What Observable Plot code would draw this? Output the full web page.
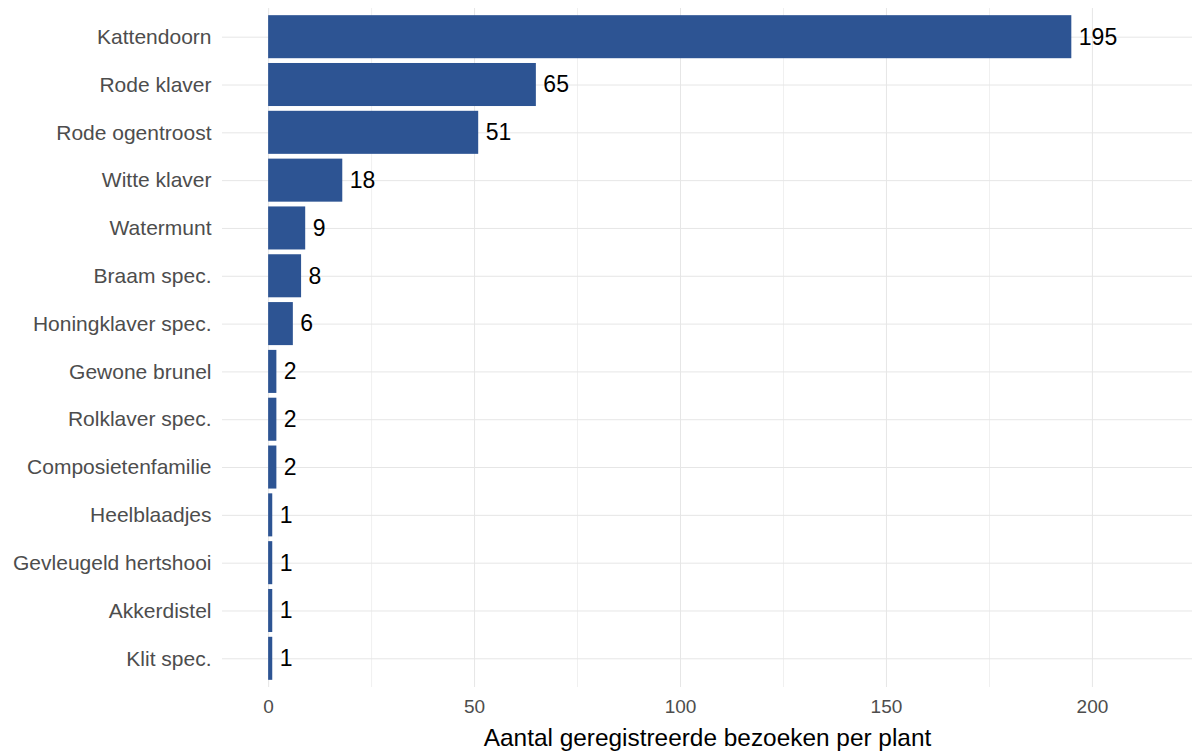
<!DOCTYPE html>
<html>
<head>
<meta charset="utf-8">
<script src="https://cdn.jsdelivr.net/npm/d3@7"></script>
<script src="https://cdn.jsdelivr.net/npm/@observablehq/plot@0.6"></script>
<style>
  html, body { margin: 0; padding: 0; background: #ffffff; }
  svg { display: block; }
</style>
</head>
<body>
<div id="chart"></div>
<script>
// Visited plants, top to bottom, with the number of recorded visits
const plants = [
  "Kattendoorn", "Rode klaver", "Rode ogentroost", "Witte klaver",
  "Watermunt", "Braam spec.", "Honingklaver spec.", "Gewone brunel",
  "Rolklaver spec.", "Composietenfamilie", "Heelblaadjes",
  "Gevleugeld hertshooi", "Akkerdistel", "Klit spec."
];
const visits = [195, 65, 51, 18, 9, 8, 6, 2, 2, 2, 1, 1, 1, 1];

const xTicks = [0, 50, 100, 150, 200];
const xMinor = [25, 75, 125, 175];
const xTitle = "Aantal geregistreerde bezoeken per plant";

const data = plants.map((plant, i) => ({plant, visits: visits[i]}));

const font = "'Liberation Sans', Arial, Helvetica, sans-serif";

const chart = Plot.plot({
  width: 1192,
  height: 751,
  marginLeft: 222,
  marginRight: 0,
  marginTop: 8,
  marginBottom: 64,
  style: {fontFamily: font, background: "#ffffff", overflow: "visible"},
  x: {domain: [-11.2, 224.3], label: null},
  y: {domain: plants, paddingInner: 0.1, paddingOuter: 0.15, round: false, label: null},
  marks: [
    Plot.gridX(xMinor, {stroke: "#f0f0f0", strokeOpacity: 1, strokeWidth: 1}),
    Plot.gridX(xTicks, {stroke: "#e6e6e6", strokeOpacity: 1, strokeWidth: 1}),
    Plot.gridY(plants, {stroke: "#e6e6e6", strokeOpacity: 1, strokeWidth: 1}),
    Plot.barX(data, {x: "visits", y: "plant", fill: "#2d5493"}),
    Plot.text(data, {
      x: "visits", y: "plant", text: d => String(d.visits),
      textAnchor: "start", dx: 7, fontSize: 23, fill: "#000000"
    }),
    Plot.axisX(xTicks, {tickSize: 0, tickPadding: 12, fontSize: 19, color: "#4d4d4d", label: null}),
    Plot.axisY({tickSize: 0, tickPadding: 11, fontSize: 21, color: "#4d4d4d", label: null}),
    Plot.text([xTitle], {frameAnchor: "bottom", dy: 58, fontSize: 24.4, fill: "#000000"})
  ]
});

document.getElementById("chart").appendChild(chart);
</script>
</body>
</html>
